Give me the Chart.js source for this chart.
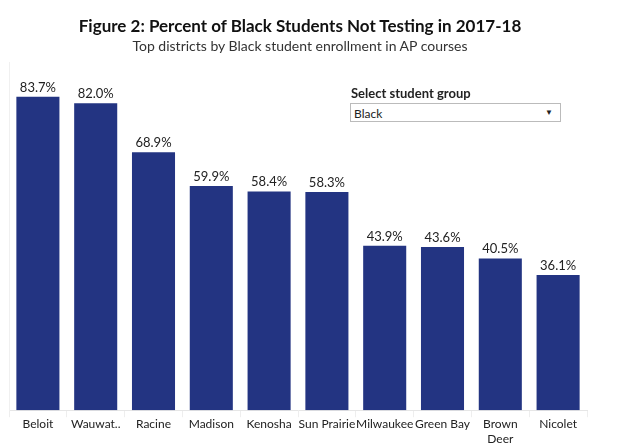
<!DOCTYPE html>
<html>
<head>
<meta charset="utf-8">
<script src="https://cdn.jsdelivr.net/npm/chart.js@4"></script>
<style>
  body { margin: 0; background: #fff; font-family: Lato, sans-serif; overflow: hidden; }
  #wrap { position: relative; width: 621px; height: 446px; }
  #chart { display: block; }
  #title { position: absolute; left: 0; width: 600px; top: 15px; text-align: center; font-size: 17px; font-weight: bold; color: #111; }
  #sub { position: absolute; left: 0; width: 600px; top: 37px; text-align: center; font-size: 14px; color: #333; }
  #selLabel { position: absolute; left: 351px; top: 85px; font-size: 13px; font-weight: bold; color: #222; }
  #sel { position: absolute; left: 350px; top: 103px; width: 211px; height: 19px; border: 1px solid #bbb; font-size: 12px; color: #222; box-sizing: border-box; padding: 2px 3px; background: #fff; }
  #sel span { position: absolute; right: 7px; top: 3px; font-size: 8px; }
</style>
</head>
<body>
<div id="wrap">
  <canvas id="chart" width="621" height="446"></canvas>
  <div id="title">Figure 2: Percent of Black Students Not Testing in 2017-18</div>
  <div id="sub">Top districts by Black student enrollment in AP courses</div>
  <div id="selLabel">Select student group</div>
  <div id="sel">Black<span>&#9660;</span></div>
</div>
<script>
const districts = ['Beloit', 'Wauwat..', 'Racine', 'Madison', 'Kenosha', 'Sun Prairie', 'Milwaukee', 'Green Bay', ['Brown', 'Deer'], 'Nicolet'];
const notTesting = [83.7, 82.0, 68.9, 59.9, 58.4, 58.3, 43.9, 43.6, 40.5, 36.1];

const valueLabels = {
  id: 'valueLabels',
  afterDatasetsDraw(chart) {
    const ctx = chart.ctx;
    const meta = chart.getDatasetMeta(0);
    ctx.save();
    ctx.font = '13px Lato, sans-serif';
    ctx.fillStyle = '#222';
    ctx.textAlign = 'center';
    ctx.textBaseline = 'bottom';
    meta.data.forEach((bar, i) => {
      ctx.fillText(notTesting[i].toFixed(1) + '%', bar.x, bar.y - 3);
    });
    ctx.restore();
  }
};

new Chart(document.getElementById('chart'), {
  type: 'bar',
  data: {
    labels: districts,
    datasets: [{
      data: notTesting,
      backgroundColor: '#233482',
      categoryPercentage: 1,
      barPercentage: 0.745
    }]
  },
  options: {
    responsive: false,
    animation: false,
    layout: { padding: { left: 1, right: 34, top: 62, bottom: 0 } },
    plugins: { legend: { display: false }, tooltip: { enabled: false } },
    scales: {
      x: {
        offset: true,
        grid: { offset: true, drawOnChartArea: false, drawTicks: true, tickLength: 7, color: '#eee' },
        border: { color: '#e6e6e6' },
        ticks: { color: '#222', font: { family: 'Lato', size: 12, lineHeight: 1.2 }, maxRotation: 0, autoSkip: false, padding: 0 }
      },
      y: {
        min: 0,
        max: 93,
        display: true,
        grid: { display: false },
        ticks: { display: false },
        border: { color: '#f0f0f0' }
      }
    }
  },
  plugins: [valueLabels]
});
</script>
</body>
</html>
